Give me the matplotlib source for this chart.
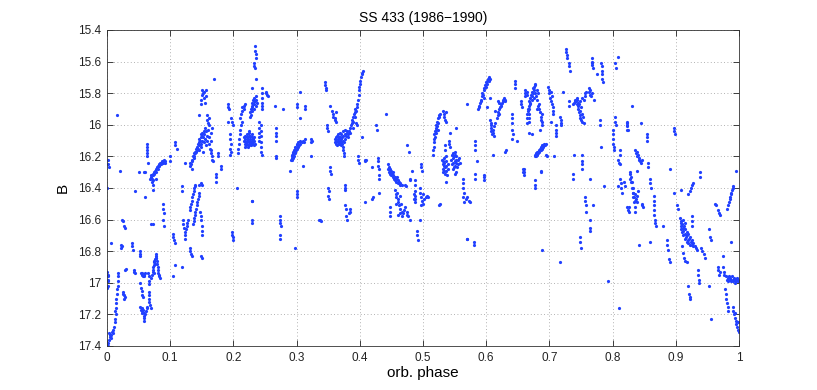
import matplotlib
matplotlib.use("Agg")
import matplotlib.pyplot as plt
from matplotlib.ticker import FixedLocator

# ---- data: (orbital phase, B magnitude) ----
obs_a = [  # phase 0.00 - 0.05
(0.000,16.93),(0.001,16.96),(0.002,16.99),(0.001,17.02),(0.000,17.03),(0.002,16.95),(0.001,16.98),
(0.002,16.22),(0.002,16.25),(0.003,16.27),(0.000,16.40),
(0.001,17.38),(0.002,17.40),(0.003,17.36),(0.004,17.34),(0.005,17.33),(0.006,17.35),(0.003,17.32),(0.007,17.33),
(0.008,17.31),(0.009,17.32),(0.010,17.30),(0.011,17.28),(0.012,17.25),(0.013,17.23),(0.014,17.20),(0.013,17.18),
(0.014,17.16),(0.015,17.13),(0.015,17.10),(0.016,17.07),(0.016,17.04),(0.017,17.02),(0.018,16.99),(0.017,16.96),(0.018,16.94),
(0.007,16.75),(0.016,15.94),(0.021,16.29),
(0.022,16.76),(0.022,16.78),(0.023,16.77),
(0.024,16.60),(0.025,16.61),(0.027,16.64),(0.028,16.65),
(0.026,17.06),(0.026,17.07),(0.027,17.08),(0.027,17.10),(0.028,17.09),
(0.029,16.92),(0.030,16.91),
(0.039,16.75),(0.040,16.77),(0.041,16.79),
(0.042,16.92),(0.043,16.93),(0.044,16.94),
(0.044,16.42),(0.050,16.30),
]
obs_b = [  # phase 0.05 - 0.10
(0.052,16.80),(0.053,16.82),(0.053,16.83),
(0.054,16.94),(0.055,16.95),(0.056,16.94),(0.058,16.95),(0.059,16.96),(0.060,16.94),(0.057,16.96),
(0.053,17.00),(0.054,17.03),(0.055,17.05),(0.056,17.08),(0.057,17.09),
(0.053,17.15),(0.054,17.17),(0.055,17.16),(0.056,17.18),(0.057,17.17),(0.058,17.19),(0.058,17.21),(0.059,17.22),
(0.059,17.24),(0.055,17.19),(0.060,17.20),(0.062,17.18),(0.063,17.16),(0.064,17.15),
(0.060,16.46),(0.058,16.30),(0.060,16.30),
(0.063,16.12),(0.063,16.14),(0.064,16.16),(0.063,16.18),(0.064,16.20),(0.065,16.24),
(0.065,16.94),(0.066,16.96),(0.066,16.99),(0.067,17.01),
(0.066,17.06),(0.066,17.08),(0.067,17.10),(0.067,17.12),(0.068,17.14),
(0.069,17.16),(0.070,16.63),(0.072,16.63),
(0.068,16.34),(0.069,16.32),(0.070,16.33),(0.071,16.34),(0.072,16.31),(0.073,16.32),(0.074,16.30),(0.075,16.31),
(0.076,16.29),(0.077,16.30),(0.078,16.28),(0.079,16.27),(0.080,16.28),(0.081,16.26),(0.082,16.25),(0.083,16.26),
(0.084,16.24),(0.085,16.25),(0.086,16.24),(0.087,16.23),(0.088,16.24),(0.089,16.23),(0.090,16.22),(0.091,16.24),
(0.092,16.23),(0.071,16.36),(0.073,16.35),
(0.070,16.97),(0.071,16.95),(0.072,16.93),(0.073,16.92),(0.073,16.90),(0.074,16.89),(0.075,16.87),(0.075,16.86),
(0.076,16.85),(0.077,16.84),(0.077,16.83),(0.078,16.82),(0.078,16.84),(0.079,16.86),(0.079,16.88),(0.080,16.90),
(0.080,16.92),(0.081,16.94),(0.082,16.95),(0.083,16.96),(0.084,16.97),(0.076,16.88),(0.074,16.94),
(0.072,16.38),(0.073,16.41),(0.078,16.34),
(0.089,16.50),(0.089,16.53),(0.090,16.56),(0.089,16.60),(0.090,16.64),
(0.099,16.20),(0.099,16.23),
]
obs_c = [  # phase 0.10 - 0.18
(0.107,16.11),(0.108,16.13),(0.110,16.15),
(0.104,16.69),(0.105,16.71),(0.106,16.73),(0.107,16.75),
(0.108,16.89),(0.105,16.96),
(0.118,16.39),(0.118,16.42),(0.119,16.90),
(0.120,16.60),(0.121,16.63),(0.122,16.65),
(0.123,16.72),(0.124,16.70),(0.124,16.68),(0.125,16.66),(0.126,16.64),(0.127,16.62),(0.128,16.60),
(0.124,16.24),(0.131,16.78),(0.132,16.80),(0.133,16.82),(0.134,16.83),(0.134,16.28),
(0.131,16.26),(0.132,16.24),(0.133,16.25),(0.134,16.22),(0.135,16.23),(0.136,16.20),(0.137,16.21),(0.138,16.18),
(0.138,16.20),(0.139,16.17),(0.140,16.18),(0.141,16.15),(0.141,16.17),(0.142,16.14),(0.143,16.16),(0.144,16.12),
(0.144,16.15),(0.145,16.11),(0.146,16.13),(0.146,16.09),(0.147,16.10),(0.148,16.08),(0.148,16.12),(0.149,16.06),
(0.150,16.07),(0.150,16.10),(0.151,16.05),(0.152,16.08),(0.153,16.04),(0.153,16.11),(0.154,16.06),(0.155,16.02),
(0.155,16.09),(0.156,16.04),(0.157,16.13),(0.158,16.07),(0.159,16.10),(0.160,16.03),(0.161,16.12),(0.162,16.08),
(0.163,16.15),(0.145,16.16),(0.149,16.14),(0.152,16.17),
(0.131,16.54),(0.132,16.52),(0.133,16.50),(0.134,16.48),(0.135,16.46),(0.136,16.44),(0.137,16.42),(0.138,16.40),
(0.139,16.39),(0.140,16.38),
(0.136,16.63),(0.137,16.61),(0.138,16.59),(0.139,16.57),(0.140,16.55),(0.141,16.53),(0.142,16.51),(0.143,16.49),
(0.144,16.47),(0.145,16.45),(0.146,16.43),
(0.146,16.38),(0.148,16.37),(0.150,16.38),
(0.147,16.55),(0.148,16.58),(0.149,16.60),(0.150,16.64),(0.151,16.67),(0.151,16.70),
(0.149,16.83),(0.150,16.84),
(0.148,15.87),(0.149,15.84),(0.150,15.81),(0.151,15.78),(0.152,15.80),(0.153,15.83),(0.154,15.79),(0.155,15.86),
(0.156,15.82),(0.157,15.78),
(0.158,15.94),(0.159,15.97),(0.160,15.99),(0.161,16.00),(0.162,15.96),
(0.145,15.94),(0.168,16.23),(0.170,15.71),
(0.164,16.05),(0.165,16.10),(0.164,16.16),(0.165,16.18),(0.166,16.02),
(0.166,16.20),(0.166,16.22),(0.176,16.18),(0.176,16.20),(0.181,16.26),(0.181,16.28),
(0.172,16.31),(0.172,16.33),(0.173,16.36),
]
obs_d = [  # phase 0.18 - 0.34
(0.192,15.87),(0.192,15.89),(0.193,15.90),(0.192,15.98),
(0.196,15.96),(0.198,15.98),(0.200,16.00),
(0.195,16.06),(0.195,16.09),(0.196,16.12),(0.195,16.15),(0.196,16.17),(0.195,16.19),
(0.198,16.68),(0.198,16.70),(0.199,16.71),(0.199,16.73),
(0.206,16.40),
(0.208,16.18),(0.208,16.15),(0.209,16.12),(0.209,16.09),(0.210,16.06),(0.211,16.03),(0.212,16.00),(0.213,15.98),
(0.210,15.96),(0.212,15.93),(0.213,15.91),(0.214,15.89),(0.216,15.90),(0.217,15.88),(0.218,15.87),
(0.216,16.08),(0.217,16.10),(0.218,16.12),(0.218,16.07),(0.219,16.09),(0.220,16.11),(0.220,16.13),(0.221,16.06),
(0.221,16.10),(0.222,16.08),(0.222,16.12),(0.223,16.14),(0.223,16.09),(0.224,16.07),(0.224,16.11),(0.225,16.13),
(0.225,16.05),(0.226,16.09),(0.226,16.12),(0.227,16.10),(0.227,16.07),(0.228,16.11),(0.228,16.13),(0.229,16.08),
(0.229,16.10),(0.230,16.12),(0.230,16.06),(0.231,16.09),(0.231,16.11),(0.232,16.13),(0.233,16.08),(0.233,16.10),
(0.234,16.12),(0.219,16.14),(0.224,16.04),
(0.226,15.95),(0.227,15.92),(0.228,15.90),(0.228,15.94),(0.229,15.88),(0.229,15.91),(0.230,15.86),(0.230,15.89),
(0.231,15.84),(0.231,15.87),(0.232,15.85),(0.232,15.90),(0.233,15.83),(0.233,15.87),(0.234,15.85),(0.235,15.82),
(0.235,15.88),(0.236,15.84),(0.237,15.86),(0.229,15.77),
(0.232,15.61),(0.233,15.63),(0.234,15.64),(0.234,15.50),(0.234,15.53),(0.235,15.55),(0.235,15.58),(0.236,15.71),
(0.229,16.48),(0.230,16.48),(0.229,16.60),(0.230,16.62),
(0.240,15.98),(0.240,16.02),(0.241,16.05),(0.240,16.08),(0.241,16.10),
(0.243,16.00),(0.243,16.04),(0.244,16.07),(0.243,16.11),(0.244,16.14),(0.244,16.17),(0.245,16.19),
(0.245,15.77),(0.245,15.80),(0.246,15.83),(0.245,15.86),(0.246,15.88),(0.246,15.90),
(0.251,15.79),(0.252,15.80),(0.253,15.81),(0.254,15.82),
(0.266,15.88),(0.267,16.02),(0.267,16.05),(0.268,16.07),(0.268,16.10),(0.267,16.20),(0.268,16.21),
(0.273,16.58),(0.274,16.60),(0.274,16.62),(0.275,16.64),(0.273,16.70),(0.273,16.72),
(0.279,15.90),(0.290,16.29),
(0.291,16.22),(0.292,16.21),(0.292,16.19),(0.293,16.22),(0.293,16.20),(0.294,16.18),(0.294,16.21),(0.295,16.19),
(0.295,16.17),(0.296,16.20),(0.296,16.16),(0.297,16.18),(0.297,16.15),(0.298,16.17),(0.298,16.14),(0.299,16.16),
(0.300,16.13),(0.300,16.15),(0.301,16.12),(0.302,16.14),(0.303,16.11),(0.304,16.13),(0.305,16.10),(0.306,16.12),
(0.308,16.11),(0.310,16.10),(0.313,16.09),(0.312,16.11),
(0.297,16.78),(0.300,16.42),(0.300,16.44),(0.300,16.46),
(0.300,15.87),(0.300,15.89),(0.305,15.79),(0.306,15.96),(0.310,16.26),(0.313,15.88),(0.313,15.90),
(0.323,16.09),(0.323,16.11),(0.324,16.10),(0.322,16.20),(0.335,16.60),(0.337,16.60),(0.339,16.61),
]
obs_e = [  # phase 0.34 - 0.51
(0.345,15.73),(0.345,15.75),(0.346,15.77),(0.346,15.78),
(0.348,16.00),(0.348,16.02),(0.349,16.04),
(0.353,15.88),
(0.353,16.27),(0.353,16.29),(0.354,16.31),
(0.350,16.40),(0.351,16.42),(0.350,16.45),(0.351,16.47),
(0.356,15.91),(0.357,15.93),(0.358,15.95),(0.360,15.97),(0.361,15.96),(0.362,15.98),(0.363,15.92),
(0.360,16.09),(0.361,16.11),(0.362,16.08),(0.362,16.12),(0.363,16.10),(0.364,16.07),(0.364,16.13),(0.365,16.09),
(0.365,16.11),(0.366,16.06),(0.366,16.10),(0.367,16.12),(0.367,16.08),(0.368,16.10),(0.368,16.05),(0.369,16.11),
(0.369,16.08),(0.370,16.13),(0.370,16.09),(0.371,16.06),(0.371,16.11),(0.372,16.08),(0.372,16.12),(0.373,16.04),
(0.373,16.10),(0.374,16.07),(0.375,16.11),(0.376,16.06),(0.376,16.09),(0.377,16.03),(0.378,16.07),(0.379,16.05),
(0.380,16.04),
(0.374,16.14),(0.374,16.16),(0.375,16.18),(0.375,16.20),
(0.376,16.38),(0.376,16.40),(0.377,16.41),
(0.377,16.51),(0.378,16.53),(0.378,16.58),(0.379,16.60),(0.383,16.56),(0.384,16.53),(0.385,16.55),
(0.381,16.08),(0.382,16.06),(0.383,16.04),(0.384,16.05),(0.385,16.02),(0.386,16.00),(0.387,15.99),(0.388,15.97),
(0.389,15.98),(0.390,15.95),(0.391,15.93),(0.392,15.92),(0.392,15.95),(0.393,15.90),(0.394,15.91),(0.395,15.89),
(0.396,15.87),(0.397,15.84),(0.398,15.81),(0.398,15.78),(0.399,15.76),(0.400,15.74),(0.401,15.72),(0.402,15.70),
(0.403,15.68),(0.404,15.67),(0.405,15.66),(0.394,15.99),(0.396,16.00),(0.390,16.02),
(0.397,16.20),(0.397,16.22),(0.398,16.24),(0.403,16.08),
(0.408,16.22),(0.409,16.23),(0.410,16.22),(0.409,16.49),(0.419,16.27),(0.419,16.47),(0.421,16.46),
(0.426,16.00),(0.427,16.03),
(0.429,16.21),(0.429,16.23),(0.429,16.26),(0.430,16.28),(0.430,16.32),(0.430,16.34),(0.431,16.43),
(0.441,15.93),
(0.447,16.52),(0.447,16.55),(0.448,16.58),
(0.445,16.25),(0.445,16.28),(0.446,16.27),(0.446,16.30),(0.447,16.29),(0.448,16.31),(0.448,16.28),(0.449,16.30),
(0.450,16.32),(0.450,16.29),(0.451,16.31),(0.452,16.33),(0.452,16.30),(0.453,16.32),(0.454,16.34),(0.455,16.33),
(0.456,16.35),(0.457,16.34),(0.458,16.36),(0.459,16.33),(0.460,16.35),(0.461,16.37),(0.462,16.36),(0.463,16.38),
(0.464,16.37),(0.466,16.38),
(0.456,16.41),(0.457,16.44),(0.458,16.46),(0.459,16.43),(0.460,16.49),(0.461,16.47),(0.462,16.51),(0.463,16.45),
(0.464,16.53),(0.465,16.50),(0.466,16.55),(0.458,16.50),(0.460,16.57),
(0.464,16.56),(0.466,16.58),(0.468,16.56),(0.470,16.54),(0.472,16.52),(0.474,16.55),(0.475,16.57),(0.477,16.58),
(0.479,16.60),
(0.471,16.38),(0.473,16.39),(0.474,16.13),(0.478,16.17),
(0.479,16.34),(0.480,16.35),(0.483,16.29),(0.486,16.44),(0.486,16.47),(0.487,16.49),
(0.491,16.67),(0.491,16.70),(0.492,16.73),
(0.495,16.40),(0.497,16.25),(0.497,16.27),(0.498,16.29),(0.497,16.51),(0.500,16.44),
(0.487,16.35),(0.487,16.38),(0.488,16.42),(0.487,16.45),(0.488,16.47),(0.495,16.60),(0.495,16.43),(0.497,16.46),
(0.499,16.48),(0.500,16.50),(0.502,16.47),(0.504,16.46),(0.506,16.45),(0.508,16.46),
]
obs_f = [  # phase 0.51 - 0.67
(0.527,16.50),(0.526,16.51),
(0.516,16.19),(0.516,16.16),(0.517,16.14),(0.517,16.11),(0.518,16.09),(0.518,16.06),(0.519,16.08),(0.519,16.04),
(0.520,16.05),(0.520,16.02),(0.521,16.03),(0.521,16.00),(0.522,16.01),(0.522,15.98),(0.523,15.99),(0.524,15.96),
(0.525,15.95),(0.526,15.94),(0.527,15.93),(0.523,16.03),
(0.532,15.91),(0.533,15.93),(0.534,15.95),(0.535,15.97),(0.536,15.98),(0.536,15.92),
(0.535,16.13),(0.535,16.16),(0.536,16.20),
(0.530,16.22),(0.531,16.25),(0.531,16.28),(0.532,16.23),(0.532,16.30),(0.533,16.26),(0.533,16.21),(0.534,16.24),
(0.534,16.29),(0.535,16.27),(0.535,16.31),(0.536,16.23),(0.537,16.26),(0.537,16.29),(0.538,16.32),(0.539,16.25),
(0.540,16.28),(0.536,16.36),
(0.541,16.10),(0.541,16.12),(0.542,16.14),(0.543,16.05),
(0.545,16.22),(0.546,16.19),(0.546,16.25),(0.547,16.21),(0.547,16.28),(0.548,16.18),(0.548,16.24),(0.549,16.20),
(0.549,16.27),(0.550,16.17),(0.550,16.23),(0.551,16.19),(0.551,16.26),(0.552,16.22),(0.552,16.30),(0.553,16.24),
(0.553,16.20),(0.554,16.27),(0.555,16.22),(0.556,16.25),(0.557,16.21),(0.558,16.24),(0.553,16.02),(0.550,16.31),
(0.564,16.34),(0.564,16.37),(0.564,16.40),(0.565,16.43),(0.564,16.46),(0.565,16.49),(0.568,16.47),(0.570,16.46),
(0.572,16.48),(0.574,16.49),(0.569,15.87),
(0.569,16.72),(0.570,16.72),(0.580,16.74),(0.581,16.76),
(0.582,16.10),(0.582,16.13),(0.583,16.16),(0.583,16.31),(0.583,16.34),(0.585,16.23),
(0.587,15.90),(0.588,15.88),(0.589,15.89),(0.590,15.86),(0.591,15.84),(0.592,15.85),(0.593,15.82),(0.594,15.80),
(0.595,15.81),(0.596,15.78),(0.597,15.77),(0.598,15.75),(0.599,15.76),(0.600,15.73),(0.601,15.74),(0.602,15.72),
(0.603,15.71),(0.604,15.70),(0.605,15.72),(0.606,15.71),(0.597,15.83),
(0.596,16.32),(0.597,16.33),(0.597,16.35),(0.601,15.89),
(0.606,15.97),(0.607,15.99),(0.607,16.02),(0.608,16.00),(0.608,16.04),(0.609,16.06),(0.610,16.03),(0.611,16.05),
(0.612,16.07),(0.613,16.01),(0.614,15.99),(0.606,15.83),(0.610,16.19),(0.614,15.91),
(0.617,15.96),(0.618,15.94),(0.619,15.92),(0.620,15.93),(0.621,15.90),(0.622,15.89),(0.623,15.87),(0.624,15.88),
(0.625,15.86),(0.626,15.84),(0.627,15.85),(0.628,15.83),(0.629,15.84),(0.630,15.85),(0.619,15.85),(0.620,15.86),
(0.630,16.17),(0.631,16.16),
(0.641,15.93),(0.641,15.96),(0.641,15.99),(0.641,16.03),(0.642,16.06),(0.641,16.09),
(0.645,15.72),(0.645,15.74),(0.646,15.77),(0.648,16.10),
(0.655,15.85),(0.655,15.87),(0.656,15.89),
(0.660,16.28),(0.660,16.30),(0.660,16.32),
(0.664,15.79),(0.665,15.81),
(0.666,15.90),(0.667,15.93),(0.667,15.96),(0.668,15.98),
]
obs_g = [  # phase 0.66 - 0.84
(0.661,15.78),(0.662,15.80),(0.662,15.82),(0.664,15.99),(0.665,15.96),(0.665,15.93),(0.666,15.91),(0.667,15.88),
(0.668,15.90),(0.668,15.85),(0.669,15.87),(0.670,15.83),(0.670,15.86),(0.671,15.81),(0.672,15.84),(0.672,15.79),
(0.673,15.82),(0.674,15.77),(0.674,15.80),(0.675,15.76),(0.676,15.78),(0.677,15.75),(0.678,15.74),(0.676,15.83),
(0.678,15.80),(0.679,15.82),(0.680,15.78),(0.681,15.84),(0.682,15.80),(0.683,15.87),(0.684,15.90),(0.685,15.92),
(0.686,15.95),(0.687,15.97),(0.688,15.93),(0.688,15.98),(0.689,16.00),(0.680,15.90),(0.682,15.88),
(0.668,16.05),(0.673,16.06),(0.685,16.03),
(0.677,16.20),(0.678,16.19),(0.679,16.20),(0.679,16.18),(0.680,16.19),(0.681,16.17),(0.682,16.18),(0.683,16.16),
(0.684,16.17),(0.685,16.15),(0.686,16.16),(0.687,16.14),(0.688,16.15),(0.689,16.13),(0.690,16.14),(0.691,16.13),
(0.692,16.12),(0.693,16.13),(0.694,16.12),(0.695,16.19),(0.696,16.20),
(0.659,16.28),(0.659,16.30),(0.677,16.35),(0.677,16.38),(0.678,16.40),(0.686,16.29),(0.687,16.30),(0.688,16.79),
(0.698,15.76),(0.699,15.78),(0.700,15.80),(0.701,15.83),(0.702,15.85),(0.703,15.79),(0.704,15.82),
(0.704,15.87),(0.705,15.89),(0.705,15.91),(0.706,15.93),(0.703,15.98),
(0.710,16.00),(0.710,16.03),(0.711,16.05),(0.711,16.07),
(0.717,15.95),(0.718,15.97),(0.718,15.99),(0.719,16.00),
(0.708,16.20),(0.717,16.87),(0.722,15.79),
(0.727,15.52),(0.727,15.54),(0.728,15.56),(0.728,15.58),
(0.731,15.61),(0.731,15.63),(0.732,15.66),(0.731,15.85),(0.731,15.88),
(0.737,16.31),(0.737,16.34),(0.739,16.19),
(0.738,15.87),(0.739,15.86),(0.740,15.85),(0.741,15.84),(0.742,15.85),(0.743,15.83),(0.744,15.84),(0.745,15.86),
(0.745,15.88),(0.746,15.90),(0.747,15.92),(0.747,15.87),(0.748,15.94),(0.749,15.91),(0.749,15.96),(0.750,15.89),
(0.750,15.97),(0.751,15.93),(0.752,15.98),(0.753,15.95),(0.754,15.99),(0.755,15.84),(0.756,15.82),(0.757,15.80),
(0.758,15.79),(0.752,15.83),(0.748,15.85),(0.744,15.87),
(0.751,16.19),(0.751,16.23),(0.752,16.25),(0.752,16.28),
(0.749,16.71),(0.749,16.74),(0.750,16.78),
(0.757,16.46),(0.757,16.48),(0.758,16.51),(0.758,16.55),
(0.764,16.60),(0.764,16.65),(0.765,16.67),(0.765,16.34),
(0.762,15.77),(0.763,15.79),(0.764,15.81),(0.765,15.78),(0.766,15.82),(0.768,15.80),(0.770,15.84),
(0.767,15.58),(0.768,15.60),(0.768,15.62),(0.769,15.64),(0.767,15.61),
(0.769,16.51),(0.776,15.68),
(0.780,15.97),(0.780,16.00),(0.782,16.14),
(0.782,15.61),(0.783,15.63),(0.783,15.66),(0.784,15.68),(0.784,15.71),(0.785,15.73),
(0.786,16.39),(0.792,16.99),
(0.800,16.03),(0.800,16.06),(0.801,16.09),(0.801,16.12),(0.802,16.14),(0.802,16.16),
(0.804,15.95),(0.804,15.98),(0.805,16.00),
(0.804,15.61),(0.805,15.64),(0.808,15.57),
(0.809,16.22),(0.810,16.24),(0.811,16.25),(0.808,16.39),(0.810,17.16),
(0.811,16.16),(0.812,16.19),
(0.812,16.34),(0.813,16.37),(0.814,16.40),(0.815,16.43),(0.818,16.36),(0.820,16.39),
(0.823,15.99),(0.823,16.01),(0.824,16.03),
(0.828,16.30),(0.829,16.33),(0.830,16.36),(0.831,16.40),(0.832,16.43),(0.833,16.46),(0.834,16.49),(0.835,16.52),
(0.836,16.55),(0.826,16.52),(0.826,16.55),(0.830,15.88),
]
obs_h = [  # phase 0.82 - 1.00
(0.822,16.00),(0.822,16.03),(0.823,15.98),
(0.836,16.16),(0.837,16.18),(0.838,16.17),(0.839,16.20),(0.840,16.19),(0.841,16.22),(0.842,16.21),(0.843,16.23),
(0.845,16.24),(0.846,16.22),(0.838,16.29),(0.845,15.99),
(0.854,16.06),(0.854,16.08),(0.855,16.10),(0.856,16.24),(0.856,16.27),
(0.828,16.31),(0.828,16.34),(0.829,16.36),
(0.832,16.40),(0.833,16.43),(0.834,16.46),(0.835,16.48),(0.836,16.44),(0.837,16.47),(0.838,16.49),(0.839,16.45),
(0.840,16.42),
(0.823,16.52),(0.825,16.54),(0.846,16.50),(0.847,16.51),(0.848,16.52),
(0.859,16.34),(0.859,16.37),(0.860,16.40),
(0.865,16.45),(0.865,16.48),(0.866,16.51),(0.866,16.54),(0.866,16.57),(0.867,16.60),(0.867,16.62),(0.868,16.64),
(0.842,16.76),(0.859,16.74),(0.880,16.64),
(0.886,16.73),(0.886,16.76),(0.887,16.79),(0.890,16.85),(0.891,16.87),(0.891,16.28),
(0.897,16.02),(0.897,16.04),(0.898,16.06),(0.897,16.43),
(0.902,16.51),(0.903,16.53),
(0.907,16.59),(0.908,16.61),(0.908,16.64),(0.909,16.62),(0.909,16.66),(0.910,16.63),(0.910,16.68),(0.911,16.65),
(0.912,16.70),(0.912,16.67),(0.913,16.64),(0.914,16.69),(0.914,16.72),(0.915,16.66),(0.916,16.71),(0.917,16.68),
(0.917,16.74),(0.918,16.70),(0.919,16.73),(0.920,16.69),(0.920,16.75),(0.921,16.72),(0.922,16.76),(0.923,16.71),
(0.924,16.74),(0.925,16.76),(0.926,16.73),(0.927,16.75),(0.928,16.77),(0.911,16.60),(0.915,16.62),
(0.909,16.41),(0.910,16.77),(0.911,16.81),(0.913,16.84),(0.915,16.86),(0.917,16.87),
(0.920,17.02),(0.921,17.07),(0.922,17.09),(0.923,17.10),
(0.920,16.44),(0.922,16.42),(0.924,16.40),(0.926,16.38),(0.928,16.37),
(0.925,16.58),(0.925,16.61),(0.926,16.64),
(0.930,16.77),(0.932,16.78),(0.934,16.79),
(0.935,16.92),(0.935,16.95),(0.936,16.98),(0.936,17.00),
(0.938,16.30),(0.938,16.33),
(0.940,16.78),(0.942,16.80),(0.944,16.82),(0.946,16.84),
(0.952,16.66),(0.954,16.71),(0.955,16.73),(0.953,17.02),(0.955,17.23),
(0.962,16.50),(0.964,16.51),(0.966,16.54),(0.968,16.56),(0.970,16.57),
(0.966,16.90),(0.967,16.92),(0.968,16.95),(0.970,16.93),
(0.975,16.83),(0.975,16.90),(0.976,16.93),(0.976,16.95),
(0.978,17.04),(0.979,17.07),(0.980,17.10),(0.981,17.13),(0.982,17.15),(0.983,17.18),
(0.980,16.96),(0.981,16.98),(0.982,16.97),(0.983,16.99),(0.984,16.96),(0.985,16.98),(0.986,16.97),(0.987,16.99),
(0.988,16.98),(0.989,16.96),(0.990,16.98),(0.991,16.99),(0.992,16.97),(0.993,16.98),(0.994,17.00),(0.995,16.98),
(0.996,16.99),(0.997,16.97),(0.998,16.99),(0.999,16.98),(1.000,16.99),
(0.981,16.53),(0.982,16.51),(0.984,16.49),(0.985,16.47),(0.986,16.46),(0.987,16.44),(0.988,16.43),(0.989,16.41),
(0.990,16.40),(0.991,16.39),
(0.988,16.74),(0.995,16.29),
(0.990,17.15),(0.991,17.18),(0.992,17.20),(0.993,17.22),(0.994,17.19),(0.995,17.24),(0.996,17.26),(0.997,17.28),
(0.998,17.25),(0.999,17.30),(1.000,17.31),
]

x_ticks = [0, 0.1, 0.2, 0.3, 0.4, 0.5, 0.6, 0.7, 0.8, 0.9, 1]
x_tick_labels = ["0", "0.1", "0.2", "0.3", "0.4", "0.5", "0.6", "0.7", "0.8", "0.9", "1"]
y_ticks = [15.4, 15.6, 15.8, 16.0, 16.2, 16.4, 16.6, 16.8, 17.0, 17.2, 17.4]
y_tick_labels = ["15.4", "15.6", "15.8", "16", "16.2", "16.4", "16.6", "16.8", "17", "17.2", "17.4"]

plt.rcParams['font.family'] = ['Liberation Sans', 'DejaVu Sans']

fig = plt.figure(figsize=(8.17, 3.90), dpi=100)
ax = fig.add_axes([107/817, 1-346/390, 632/817, 316/390])

all_obs = obs_a + obs_b + obs_c + obs_d + obs_e + obs_f + obs_g + obs_h
phase = [p for p, b in all_obs]
bmag = [b for p, b in all_obs]
ax.plot(phase, bmag, linestyle='none', marker='o', ms=2.3, mew=0,
        color='#2140ff', clip_on=True)

ax.set_xlim(0, 1)
ax.set_ylim(17.4, 15.4)
ax.xaxis.set_major_locator(FixedLocator(x_ticks))
ax.set_xticklabels(x_tick_labels)
ax.yaxis.set_major_locator(FixedLocator(y_ticks))
ax.set_yticklabels(y_tick_labels)
ax.tick_params(direction='in', length=4, width=0.6, top=True, right=True,
               labelsize=8.5, colors='#222222', pad=4)
ax.grid(True, linestyle=(0, (1, 3)), color='#999999', linewidth=0.6)
for s in ax.spines.values():
    s.set_linewidth(0.6)
    s.set_color('#333333')

ax.set_title('SS 433 (1986\u22121990)', fontsize=10, pad=6)
ax.set_xlabel('orb. phase', fontsize=11, labelpad=2)
ax.set_ylabel('B', fontsize=11, labelpad=6)

fig.savefig('out.png', dpi=100)
